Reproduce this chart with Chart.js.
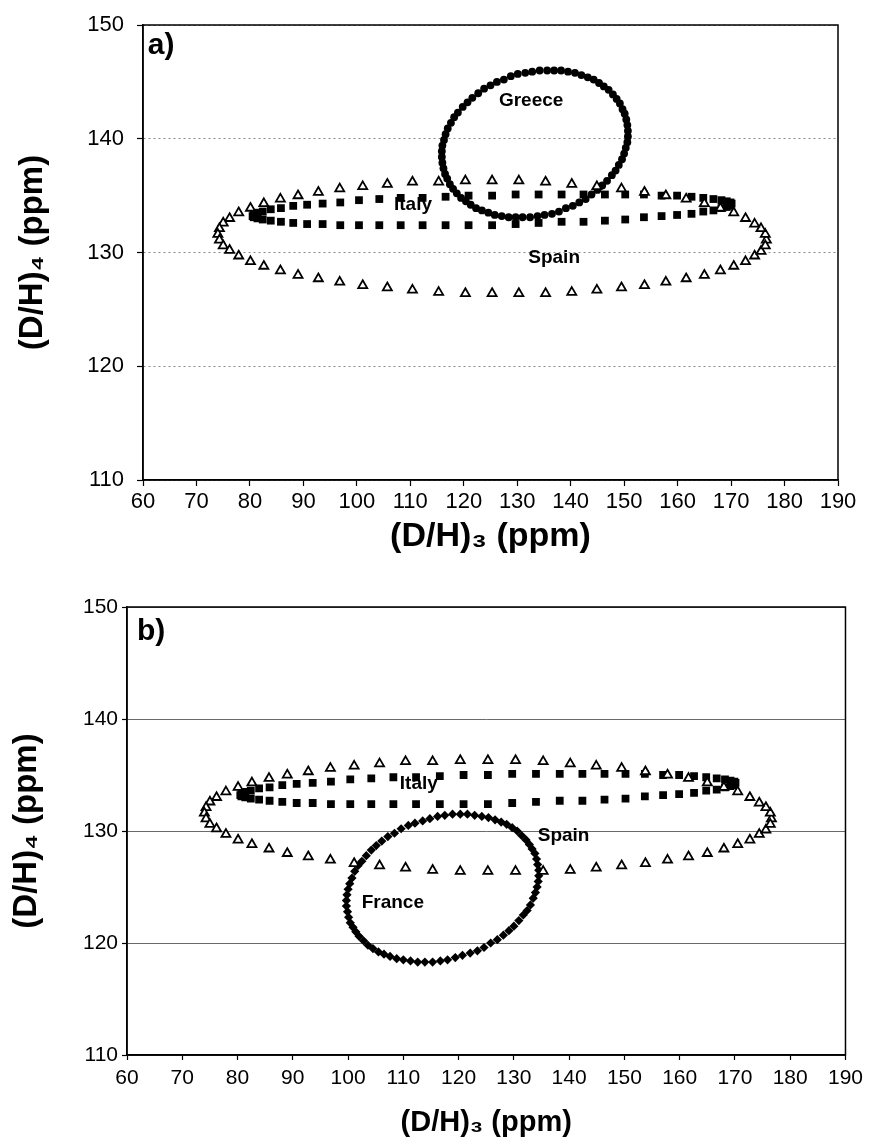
<!DOCTYPE html>
<html lang="en">
<head>
    <meta charset="UTF-8">
    <title>(D/H)3 vs (D/H)4</title>
    <style>
        body {
            margin: 0;
            background-color: #fff;
        }
        .panel {
            position: absolute;
            left: 0;
            width: 869px;
        }
        #panelA { top: 0; height: 560px; }
        #panelB { top: 560px; height: 586px; }
    </style>
    <script src="https://cdn.jsdelivr.net/npm/chart.js"></script>
</head>
<body>
    <div class="panel" id="panelA"><canvas id="chartA" width="869" height="560"></canvas></div>
    <div class="panel" id="panelB"><canvas id="chartB" width="869" height="586"></canvas></div>
    <script>
        // axis ticks
        const xTicks = [60, 70, 80, 90, 100, 110, 120, 130, 140, 150, 160, 170, 180, 190];
        const yTicks = [110, 120, 130, 140, 150];

        // Spain (open triangles)
        const spainX = [176.6, 176.4, 175.6, 174.4, 172.7, 170.5, 168.0, 165.0, 161.6, 157.8, 153.8, 149.5, 144.9, 140.2, 135.3, 130.3, 125.3,
            120.3, 115.3, 110.4, 105.7, 101.1, 96.8, 92.8, 89.0, 85.7, 82.6, 80.1, 77.9, 76.2, 75.0, 74.3, 74.0,
            74.3, 75.0, 76.2, 77.9, 80.1, 82.6, 85.7, 89.0, 92.8, 96.8, 101.1, 105.7, 110.4, 115.3, 120.3, 125.3,
            130.3, 135.3, 140.2, 144.9, 149.5, 153.8, 157.8, 161.6, 165.0, 168.0, 170.5, 172.7, 174.4, 175.6, 176.4];
        const spainY = [131.1, 131.6, 132.1, 132.5, 133.0, 133.5, 133.9, 134.3, 134.7, 135.0, 135.3, 135.6, 135.8, 136.0, 136.2, 136.3, 136.3,
            136.3, 136.2, 136.2, 136.0, 135.8, 135.6, 135.3, 135.0, 134.7, 134.3, 133.9, 133.5, 133.0, 132.6, 132.1, 131.6,
            131.1, 130.6, 130.2, 129.7, 129.2, 128.8, 128.4, 128.0, 127.7, 127.4, 127.1, 126.9, 126.7, 126.5, 126.4, 126.4,
            126.4, 126.4, 126.5, 126.7, 126.9, 127.1, 127.4, 127.7, 128.0, 128.4, 128.8, 129.2, 129.7, 130.1, 130.6];

        // Italy (filled squares)
        const italyX = [170.1, 169.9, 169.2, 168.2, 166.7, 164.8, 162.6, 159.9, 157.0, 153.7, 150.2, 146.4, 142.4, 138.3, 134.0, 129.7, 125.3,
            120.9, 116.6, 112.3, 108.2, 104.2, 100.4, 96.9, 93.6, 90.7, 88.1, 85.8, 83.9, 82.4, 81.4, 80.7, 80.5,
            80.7, 81.4, 82.4, 83.9, 85.8, 88.1, 90.7, 93.6, 96.9, 100.4, 104.2, 108.2, 112.3, 116.6, 120.9, 125.3,
            129.7, 134.0, 138.3, 142.4, 146.4, 150.2, 153.7, 157.0, 159.9, 162.6, 164.8, 166.7, 168.2, 169.2, 169.9];
        const italyY = [134.3, 134.4, 134.5, 134.6, 134.7, 134.8, 134.9, 135.0, 135.0, 135.1, 135.1, 135.1, 135.1, 135.1, 135.1, 135.1, 135.0,
            135.0, 134.9, 134.8, 134.8, 134.7, 134.6, 134.4, 134.3, 134.2, 134.1, 133.9, 133.8, 133.6, 133.5, 133.4, 133.2,
            133.1, 133.0, 132.9, 132.8, 132.7, 132.6, 132.5, 132.5, 132.4, 132.4, 132.4, 132.4, 132.4, 132.4, 132.4, 132.4,
            132.5, 132.6, 132.7, 132.7, 132.8, 132.9, 133.1, 133.2, 133.3, 133.4, 133.6, 133.7, 133.9, 134.0, 134.1];

        // Greece (filled circles, panel a)
        const greeceX = [150.7, 150.7, 150.6, 150.4, 150.1, 149.7, 149.2, 148.6, 147.9, 147.1, 146.2, 145.3, 144.3, 143.2, 142.0, 140.8, 139.5, 138.2, 136.9, 135.6, 134.2,
            132.8, 131.5, 130.1, 128.8, 127.5, 126.2, 125.0, 123.8, 122.7, 121.6, 120.7, 119.8, 118.9, 118.2, 117.6, 117.0, 116.6, 116.3, 116.0, 115.9,
            115.9, 116.0, 116.2, 116.5, 116.9, 117.4, 118.0, 118.7, 119.5, 120.4, 121.3, 122.3, 123.4, 124.6, 125.8, 127.1, 128.4, 129.7, 131.0, 132.4,
            133.8, 135.1, 136.5, 137.8, 139.1, 140.4, 141.6, 142.8, 143.9, 145.0, 145.9, 146.8, 147.7, 148.4, 149.0, 149.6, 150.0, 150.3, 150.6];
        const greeceY = [140.2, 140.7, 141.2, 141.7, 142.2, 142.6, 143.1, 143.5, 143.9, 144.3, 144.6, 144.9, 145.2, 145.4, 145.6, 145.8, 145.9, 146.0, 146.0, 146.0, 146.0,
            145.9, 145.8, 145.7, 145.5, 145.2, 145.0, 144.7, 144.4, 144.0, 143.6, 143.2, 142.8, 142.3, 141.9, 141.4, 140.9, 140.4, 139.9, 139.4, 138.9,
            138.4, 137.9, 137.4, 136.9, 136.5, 136.0, 135.6, 135.2, 134.8, 134.5, 134.2, 133.9, 133.7, 133.5, 133.3, 133.2, 133.1, 133.1, 133.1, 133.1,
            133.2, 133.3, 133.4, 133.6, 133.9, 134.1, 134.4, 134.7, 135.1, 135.5, 135.9, 136.3, 136.8, 137.2, 137.7, 138.2, 138.7, 139.2, 139.7];

        // France (filled diamonds, panel b)
        const franceX = [134.4, 134.5, 134.5, 134.3, 134.1, 133.8, 133.3, 132.8, 132.2, 131.4, 130.6, 129.7, 128.7, 127.7, 126.6, 125.4, 124.2, 122.9, 121.6, 120.3, 118.9,
            117.5, 116.2, 114.8, 113.5, 112.1, 110.9, 109.6, 108.4, 107.2, 106.1, 105.1, 104.2, 103.3, 102.5, 101.8, 101.2, 100.7, 100.3, 100.0, 99.8,
            99.7, 99.7, 99.9, 100.1, 100.4, 100.9, 101.4, 102.0, 102.8, 103.6, 104.5, 105.5, 106.5, 107.6, 108.8, 110.0, 111.3, 112.6, 113.9, 115.3,
            116.7, 118.0, 119.4, 120.7, 122.1, 123.4, 124.6, 125.8, 127.0, 128.1, 129.1, 130.0, 130.9, 131.7, 132.4, 133.0, 133.5, 133.9, 134.2];
        const franceY = [125.5, 126.0, 126.5, 127.0, 127.5, 128.0, 128.4, 128.8, 129.2, 129.6, 130.0, 130.3, 130.6, 130.8, 131.0, 131.2, 131.3, 131.4, 131.5, 131.5, 131.5,
            131.4, 131.3, 131.1, 130.9, 130.7, 130.5, 130.2, 129.8, 129.5, 129.1, 128.7, 128.3, 127.8, 127.3, 126.9, 126.4, 125.8, 125.3, 124.8, 124.3,
            123.8, 123.3, 122.8, 122.3, 121.8, 121.4, 121.0, 120.6, 120.2, 119.8, 119.5, 119.2, 119.0, 118.8, 118.6, 118.5, 118.4, 118.3, 118.3, 118.3,
            118.4, 118.5, 118.7, 118.9, 119.1, 119.3, 119.6, 120.0, 120.3, 120.7, 121.1, 121.5, 122.0, 122.5, 122.9, 123.4, 124.0, 124.5, 125.0];

        const FONT = "'Liberation Sans', Arial, sans-serif";

        function pts(xs, ys) {
            return xs.map((x, i) => ({ x: x, y: ys[i] }));
        }

        const spain = { data: pts(spainX, spainY), pointStyle: 'triangle', pointRadius: 5.2, backgroundColor: '#fff', borderColor: '#000', borderWidth: 1.8 };
        const italy = { data: pts(italyX, italyY), pointStyle: 'rect', pointRadius: 5.5, backgroundColor: '#000', borderColor: '#000', borderWidth: 0 };
        const greece = { data: pts(greeceX, greeceY), pointStyle: 'circle', pointRadius: 3.9, backgroundColor: '#000', borderColor: '#000', borderWidth: 0 };
        const france = { data: pts(franceX, franceY), pointStyle: 'rectRot', pointRadius: 4.6, backgroundColor: '#000', borderColor: '#000', borderWidth: 0 };

        // frame round the plot area and the text labels inside it
        const annotate = {
            id: 'annotate',
            afterDatasetsDraw(chart, args, opts) {
                const { ctx, chartArea: a, scales: { x, y } } = chart;
                ctx.save();
                ctx.strokeStyle = '#000';
                ctx.lineWidth = 1.5;
                ctx.strokeRect(a.left, a.top, a.right - a.left, a.bottom - a.top);
                ctx.fillStyle = '#000';
                ctx.textBaseline = 'middle';
                opts.notes.forEach(n => {
                    ctx.font = n.font;
                    ctx.textAlign = n.align || 'center';
                    ctx.fillText(n.text, x.getPixelForValue(n.x), y.getPixelForValue(n.y));
                });
                ctx.restore();
            }
        };

        function makeChart(id, g) {
            return new Chart(document.getElementById(id), {
                type: 'scatter',
                data: { datasets: g.series },
                plugins: [annotate],
                options: {
                    responsive: false,
                    animation: false,
                    events: [],
                    layout: { padding: g.pad },
                    plugins: {
                        legend: { display: false },
                        tooltip: { enabled: false },
                        annotate: { notes: g.notes }
                    },
                    scales: {
                        x: {
                            type: 'linear',
                            min: 60,
                            max: 190,
                            afterBuildTicks: s => { s.ticks = xTicks.map(v => ({ value: v })); },
                            afterFit: s => { s.height = g.xHeight; },
                            grid: { drawOnChartArea: false, tickLength: g.tickLen, tickColor: '#000', tickWidth: 1.2 },
                            border: { color: '#000', width: 1.5 },
                            ticks: { color: '#000', padding: g.xTickPad, maxRotation: 0, font: { family: FONT, size: g.tickSize } },
                            title: {
                                display: true,
                                text: '(D/H)\u2083 (ppm)',
                                color: '#000',
                                padding: { top: 0, bottom: g.xTitlePad },
                                font: { family: FONT, size: g.xTitleSize, weight: 'bold' }
                            }
                        },
                        y: {
                            type: 'linear',
                            min: 110,
                            max: 150,
                            afterBuildTicks: s => { s.ticks = yTicks.map(v => ({ value: v })); },
                            afterFit: s => { s.width = g.yWidth; },
                            grid: { color: g.gridColor, lineWidth: 1, tickLength: g.tickLen, tickColor: '#000', tickWidth: 1.2 },
                            border: { color: '#000', width: 1.5, dash: g.gridDash },
                            ticks: { color: '#000', padding: g.yTickPad, font: { family: FONT, size: g.tickSize, lineHeight: 1 } },
                            title: {
                                display: true,
                                text: '(D/H)\u2084 (ppm)',
                                color: '#000',
                                padding: { top: g.yTitlePad, bottom: 0 },
                                font: { family: FONT, size: g.yTitleSize, weight: 'bold' }
                            }
                        }
                    }
                }
            });
        }

        makeChart('chartA', {
            series: [spain, italy, greece],
            pad: { top: 25, right: 31, left: 0, bottom: 0 },
            yWidth: 143, xHeight: 80, tickLen: 6,
            tickSize: 22, xTickPad: 3, yTickPad: 13,
            xTitleSize: 34, xTitlePad: 3, yTitleSize: 33, yTitlePad: 13,
            gridColor: '#8a8a8a', gridDash: [2, 3],
            notes: [
                { text: 'a)', x: 60.9, y: 148.2, align: 'left', font: 'bold 30px ' + FONT },
                { text: 'Greece', x: 132.6, y: 143.3, font: 'bold 19px ' + FONT },
                { text: 'Italy', x: 110.5, y: 134.2, font: 'bold 19px ' + FONT },
                { text: 'Spain', x: 136.9, y: 129.5, font: 'bold 19px ' + FONT }
            ]
        });

        makeChart('chartB', {
            series: [spain, italy, france],
            pad: { top: 47, right: 21, left: 0, bottom: 0 },
            yWidth: 127, xHeight: 91, tickLen: 5,
            tickSize: 21, xTickPad: 6, yTickPad: 4,
            xTitleSize: 29, xTitlePad: 6, yTitleSize: 33, yTitlePad: 7,
            gridColor: '#6a6a6a', gridDash: [],
            notes: [
                { text: 'b)', x: 61.8, y: 147.8, align: 'left', font: 'bold 30px ' + FONT },
                { text: 'Italy', x: 112.8, y: 134.25, font: 'bold 19px ' + FONT },
                { text: 'Spain', x: 139.0, y: 129.6, font: 'bold 19px ' + FONT },
                { text: 'France', x: 108.1, y: 123.6, font: 'bold 19px ' + FONT }
            ]
        });
    </script>
</body>
</html>
